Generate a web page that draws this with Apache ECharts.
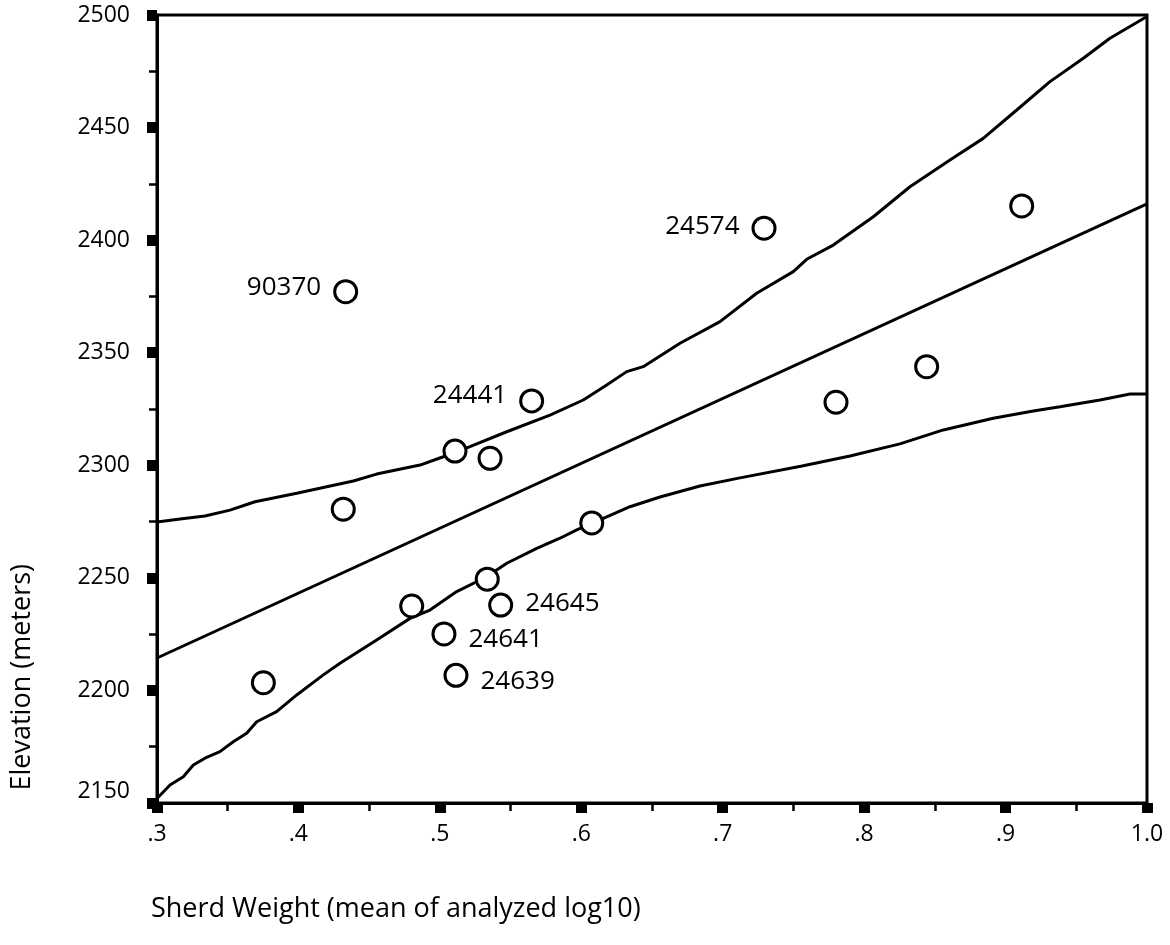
<!DOCTYPE html>
<html>
<head>
<meta charset="utf-8">
<script src="https://cdn.jsdelivr.net/npm/echarts@6/dist/echarts.min.js"></script>
<style>
html,body{margin:0;padding:0;background:#fff;}
#chart{width:1170px;height:945px;}
</style>
</head>
<body>
<div id="chart"></div>
<script>
// ---- data ----
const pointX = [0.3752, 0.4317, 0.4334, 0.4801, 0.5029, 0.5107, 0.5114, 0.5355, 0.5335, 0.5430, 0.5649, 0.6074, 0.7292, 0.7801, 0.8442, 0.9114];
const pointY = [2203.4, 2280.5, 2377.1, 2237.5, 2225.1, 2306.3, 2206.7, 2303.1, 2249.4, 2237.9, 2328.6, 2274.4, 2405.3, 2328.0, 2343.8, 2415.2];
const pointIds = ['', '', '90370', '', '24641', '', '24639', '', '', '24645', '24441', '', '24574', '', '', ''];

const fitX = [0.3, 1.0];
const fitY = [2214.4, 2416.1];

const upperX = [0.300, 0.3163, 0.3339, 0.3516, 0.3693, 0.3988, 0.4388, 0.4553, 0.4860, 0.5024, 0.5213, 0.5473, 0.5779, 0.6014, 0.6180, 0.6321, 0.6438, 0.6698, 0.6981, 0.7240, 0.7499, 0.7594, 0.7782, 0.8065, 0.8324, 0.8607, 0.8842, 0.9079, 0.9314, 0.9550, 0.9738, 1.0];
const upperY = [2274.8, 2276.1, 2277.5, 2280.1, 2283.8, 2287.6, 2293.0, 2296.1, 2300.1, 2303.8, 2308.3, 2314.9, 2322.3, 2329.0, 2335.7, 2341.6, 2343.8, 2354.2, 2363.8, 2376.4, 2386.0, 2391.5, 2397.8, 2410.4, 2423.7, 2435.6, 2445.2, 2457.8, 2470.4, 2480.8, 2489.7, 2499.3];

const lowerX = [0.300, 0.3092, 0.3186, 0.3257, 0.3351, 0.3445, 0.3539, 0.3634, 0.3705, 0.3846, 0.3988, 0.4176, 0.4294, 0.4553, 0.4789, 0.4930, 0.5119, 0.5331, 0.5473, 0.5685, 0.5849, 0.5968, 0.6132, 0.6344, 0.6557, 0.6839, 0.7122, 0.7561, 0.7900, 0.8253, 0.8560, 0.8913, 0.9196, 0.9385, 0.9668, 0.9880, 1.0];
const lowerY = [2152.0, 2158.0, 2161.7, 2166.9, 2170.3, 2172.8, 2177.2, 2181.0, 2186.1, 2190.6, 2198.0, 2206.9, 2212.1, 2222.4, 2232.0, 2235.7, 2243.9, 2250.5, 2256.5, 2263.1, 2267.6, 2271.3, 2275.7, 2281.6, 2285.9, 2290.8, 2294.4, 2299.7, 2304.1, 2309.5, 2315.7, 2320.9, 2324.1, 2326.0, 2329.0, 2331.7, 2331.7];

const xTickLabels = ['.3', '.4', '.5', '.6', '.7', '.8', '.9', '1.0'];
const yTickLabels = ['2150', '2200', '2250', '2300', '2350', '2400', '2450', '2500'];

const xTitle = 'Sherd Weight (mean of analyzed log10)';
const yTitle = 'Elevation (meters)';

// ---- styling (not data) ----
const FONT = '"Open Sans", "Noto Sans", sans-serif';
const labelPlacement = {
  '90370': ['left', -4],
  '24441': ['left', -5],
  '24574': ['left', -2],
  '24645': ['right', -2],
  '24641': ['right', 6],
  '24639': ['right', 6]
};

const zip = (xs, ys) => xs.map((x, i) => [x, ys[i]]);

const scatterData = pointX.map((x, i) => {
  const id = pointIds[i];
  const item = { value: [x, pointY[i]] };
  if (id) {
    const p = labelPlacement[id];
    item.label = {
      show: true,
      formatter: id,
      position: p[0],
      distance: 12,
      offset: [0, p[1]],
      color: '#000',
      fontFamily: FONT,
      fontSize: 26
    };
  }
  return item;
});

const lineStyle = { color: '#000', width: 3 };

const chart = echarts.init(document.getElementById('chart'), null, { renderer: 'canvas' });
chart.setOption({
  animation: false,
  backgroundColor: '#fff',
  grid: {
    left: 157, top: 15, width: 990, height: 788,
    show: true, borderColor: '#000', borderWidth: 3, backgroundColor: 'transparent'
  },
  xAxis: {
    type: 'value', min: 0.3, max: 1.0, interval: 0.1,
    axisLine: { show: true, lineStyle: { color: '#000', width: 3 } },
    axisTick: { show: true, length: 10, lineStyle: { color: '#000', width: 11 } },
    minorTick: { show: true, splitNumber: 2, length: 8, lineStyle: { color: '#000', width: 2.5 } },
    splitLine: { show: false },
    axisLabel: {
      margin: 20, color: '#000', fontFamily: FONT, fontSize: 23,
      formatter: v => xTickLabels[Math.round((v - 0.3) / 0.1)]
    }
  },
  yAxis: {
    type: 'value', min: 2150, max: 2500, interval: 50,
    axisLine: { show: true, lineStyle: { color: '#000', width: 3 } },
    axisTick: { show: true, length: 10, lineStyle: { color: '#000', width: 11 } },
    minorTick: { show: true, splitNumber: 2, length: 8, lineStyle: { color: '#000', width: 2.5 } },
    splitLine: { show: false },
    axisLabel: {
      margin: 27, color: '#000', fontFamily: FONT, fontSize: 23,
      padding: [9, 0, 0, 0],
      verticalAlignMinLabel: 'bottom',
      formatter: v => yTickLabels[Math.round((v - 2150) / 50)]
    }
  },
  graphic: [
    {
      type: 'text', left: 151, top: 896,
      style: { text: xTitle, fill: '#000', font: '27px ' + FONT }
    },
    {
      type: 'text', x: 9, y: 564, rotation: Math.PI / 2,
      style: { text: yTitle, fill: '#000', font: '27px ' + FONT, textAlign: 'right', textVerticalAlign: 'top' }
    }
  ],
  series: [
    { type: 'line', data: zip(fitX, fitY), showSymbol: false, lineStyle: lineStyle, z: 2, silent: true },
    { type: 'line', data: zip(upperX, upperY), showSymbol: false, lineStyle: lineStyle, z: 2, silent: true },
    { type: 'line', data: zip(lowerX, lowerY), showSymbol: false, lineStyle: lineStyle, z: 2, silent: true },
    {
      type: 'scatter', data: scatterData, symbol: 'circle', symbolSize: 22, z: 5,
      itemStyle: { color: '#fff', borderColor: '#000', borderWidth: 3, opacity: 1 }
    }
  ]
});
</script>
</body>
</html>
